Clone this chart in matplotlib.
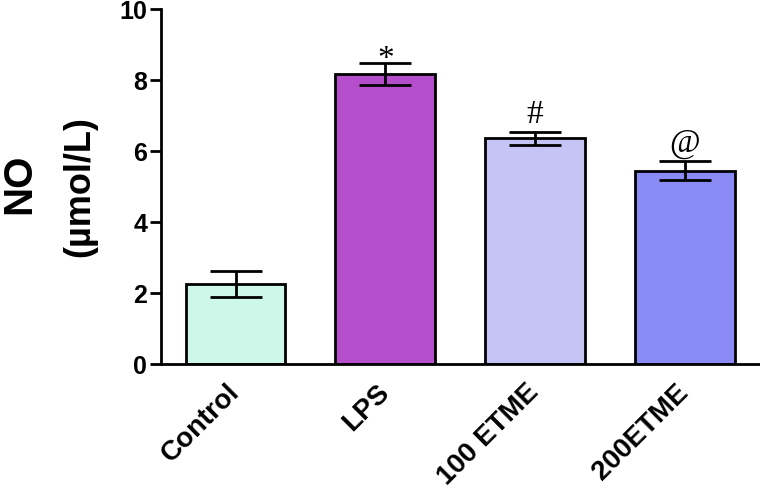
import numpy as np
import matplotlib.pyplot as plt

groups = ['Control', 'LPS', '100 ETME', '200ETME']
no_mean = [2.25, 8.17, 6.36, 5.44]
no_sem = [0.36, 0.31, 0.18, 0.27]
marks = ['', '*', '#', '@']
colors = ['#cdf7e8', '#b54ecb', '#c6c4f4', '#8b8bf5']

plt.rcParams['font.family'] = ['Liberation Sans', 'DejaVu Sans']

fig = plt.figure(figsize=(7.6, 4.89), dpi=100)
ax = fig.add_axes([0.212, 0.2536, 0.788, 0.726])

x = np.arange(len(groups))
ax.bar(x, no_mean, width=0.667, color=colors, edgecolor='black', linewidth=2, zorder=2)
ax.errorbar(x, no_mean, yerr=no_sem, fmt='none', ecolor='black', elinewidth=2,
            capsize=18.5, capthick=2, zorder=3)

# significance marks above the error bars (asterisk glyph sits high, so drop it a bit)
for xi, m, s, lab in zip(x, no_mean, no_sem, marks):
    if not lab:
        continue
    off = -0.3 if lab == '*' else 0.08
    ax.text(xi, m + s + off, lab, ha='center', va='bottom',
            fontsize=24, family='Liberation Serif', zorder=4)

ax.set_xlim(-0.497, 3.503)
ax.set_ylim(0, 10)
ax.set_yticks([0, 2, 4, 6, 8, 10])
ax.set_xticks(x)
ax.set_xticklabels(groups, rotation=45, ha='right', va='center',
                   rotation_mode='anchor', fontsize=20, fontweight='bold')
for lbl in ax.get_yticklabels():
    lbl.set_fontsize(18)
    lbl.set_fontweight('bold')

ax.tick_params(axis='x', length=0, pad=17)
ax.tick_params(axis='y', length=8, width=2, pad=2)
ax.spines['top'].set_visible(False)
ax.spines['right'].set_visible(False)
ax.spines['left'].set_linewidth(2)
ax.spines['bottom'].set_linewidth(2)

fig.text(0.025, 0.624, 'NO', rotation=90, ha='center', va='center',
         fontsize=29, fontweight='bold')
fig.text(0.105, 0.619, '(\u00b5mol/L)', rotation=90, ha='center', va='center',
         fontsize=26, fontweight='bold')

fig.savefig('out.png', dpi=100)
